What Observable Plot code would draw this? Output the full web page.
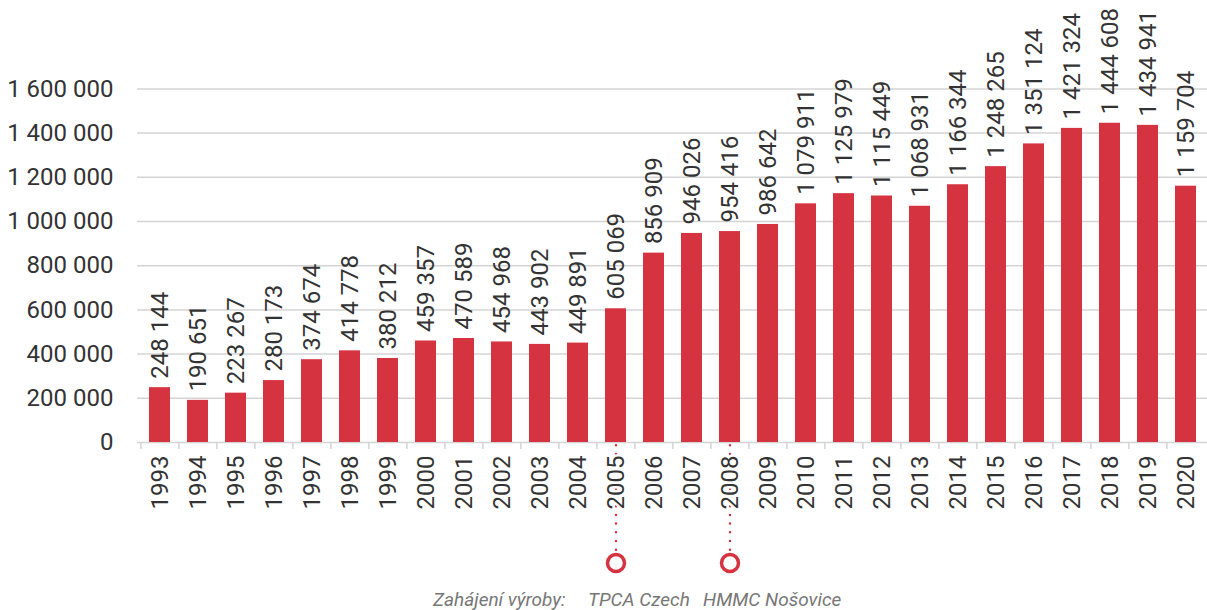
<!DOCTYPE html>
<html><head><meta charset="utf-8">
<script src="https://cdn.jsdelivr.net/npm/d3@7"></script>
<script src="https://cdn.jsdelivr.net/npm/@observablehq/plot@0.6"></script>
<style>
body{margin:0;background:#fff;font-family:Roboto,sans-serif}
#caption{font-family:Roboto,sans-serif;font-style:italic;color:#777;font-size:19px;white-space:pre;height:30px;line-height:39px;position:relative}
#caption span{position:absolute;top:0}
</style></head><body>
<div id="chart"></div>
<div id="caption"><span style="left:433px">Zahájení výroby:</span><span style="left:588px">TPCA Czech</span><span style="left:703px">HMMC Nošovice</span></div>
<script>
const years = [1993,1994,1995,1996,1997,1998,1999,2000,2001,2002,2003,2004,2005,2006,2007,2008,2009,2010,2011,2012,2013,2014,2015,2016,2017,2018,2019,2020];
const values = [248144,190651,223267,280173,374674,414778,380212,459357,470589,454968,443902,449891,605069,856909,946026,954416,986642,1079911,1125979,1115449,1068931,1166344,1248265,1351124,1421324,1444608,1434941,1159704];
const yTicks = [0,200000,400000,600000,800000,1000000,1200000,1400000,1600000];
const milestones = [{year:2005,name:"TPCA Czech"},{year:2008,name:"HMMC Nošovice"}];
const markerValue = -545000, leaderStart = -15000, leaderEnd = -500000, sepEnd = -32000;

const RED = "#d63341", GRID = "#d4d4d4", INK = "#333";
const fmt = v => d3.format(",")(v).replace(/,/g, " ");
const W = 1207, H = 580, ML = 137, MR = 0;
const step = (W - ML - MR) / years.length;
const data = years.map((y, i) => ({year: y, value: values[i]}));

const plot = Plot.plot({
  width: W, height: H,
  marginLeft: ML, marginRight: MR, marginTop: 0, marginBottom: 138,
  style: {fontFamily: "Roboto, sans-serif", fontSize: "24px", color: INK, background: "#fff"},
  x: {type: "band", domain: years, paddingInner: 0.45, paddingOuter: 0.225, axis: null},
  y: {domain: [0, 2000000], ticks: yTicks, tickSize: 0, tickPadding: 24, tickFormat: fmt, label: null},
  marks: [
    Plot.ruleY(yTicks, {stroke: GRID, strokeWidth: 1.5}),
    Plot.ruleX(years, {x: d => d, dx: -step / 2, y1: 0, y2: sepEnd, stroke: GRID, strokeWidth: 1.5}),
    Plot.ruleX(milestones, {x: "year", y1: leaderStart, y2: leaderEnd, stroke: RED, strokeWidth: 2.5, strokeDasharray: "0 8.7", strokeLinecap: "round"}),
    Plot.barY(data, {x: "year", y: "value", fill: RED}),
    Plot.text(years, {x: d => d, y: 0, text: d => String(d), rotate: -90, textAnchor: "end", dy: 13, fill: INK, stroke: "white", strokeWidth: 5}),
    Plot.text(data, {x: "year", y: "value", text: d => fmt(d.value), rotate: -90, textAnchor: "start", dy: -9, fill: INK}),
    Plot.dot(milestones, {x: "year", y: markerValue, r: 8.5, stroke: RED, strokeWidth: 3.5, fill: "white"})
  ]
});
document.getElementById("chart").appendChild(plot);
</script>
</body></html>
